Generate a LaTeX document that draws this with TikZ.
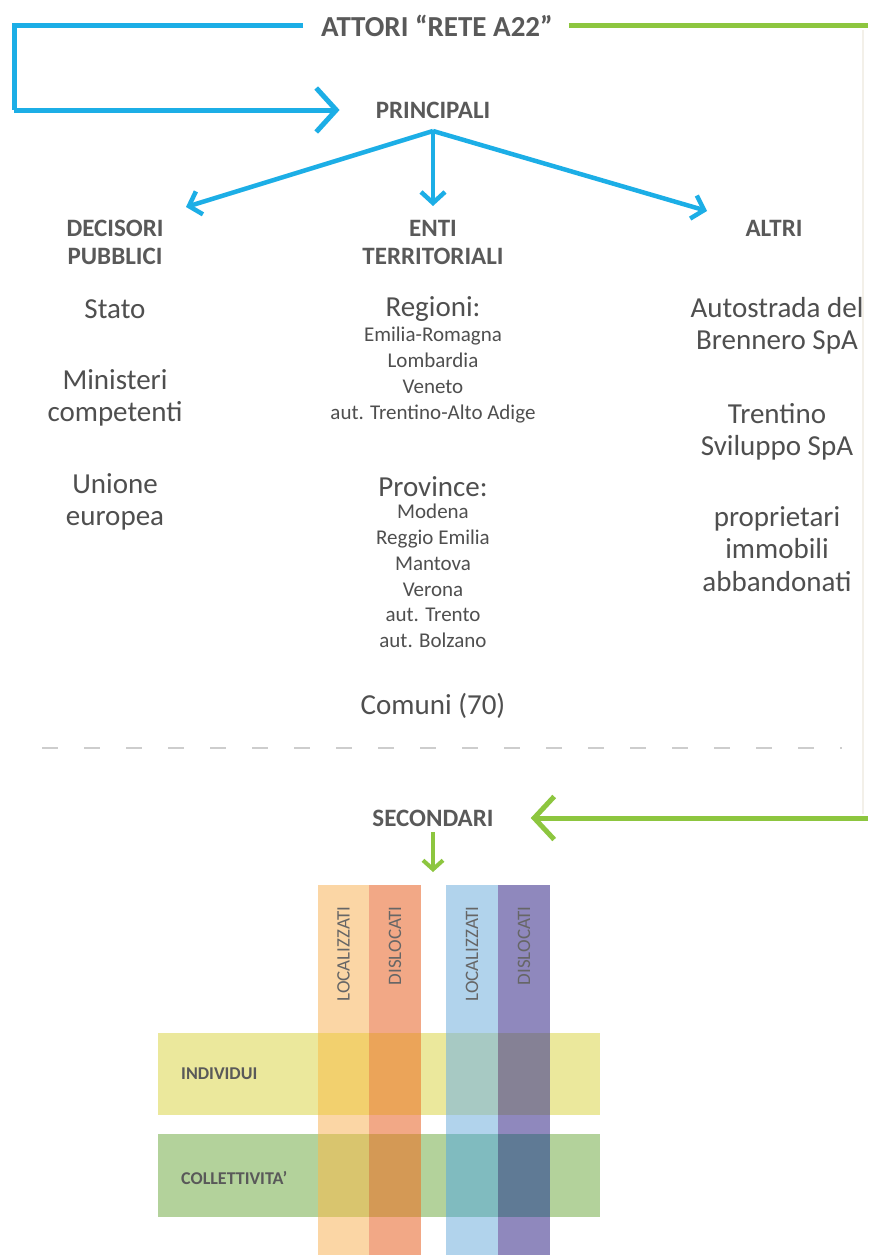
\documentclass[tikz,border=0pt]{standalone}
\usepackage{fontspec}
\setmainfont{Carlito}
\usetikzlibrary{arrows.meta}

\definecolor{ablue}{HTML}{1CAEE6}
\definecolor{agreen}{HTML}{8DC63F}
\definecolor{txt}{HTML}{4F4F4F}
\definecolor{head}{HTML}{595959}
\definecolor{striptxt}{HTML}{666666}
\definecolor{dashgray}{HTML}{CDCDCD}
\definecolor{edgegray}{HTML}{F3F0E9}
% vertical strips
\definecolor{sA}{HTML}{FBD6A5}
\definecolor{sB}{HTML}{F2A886}
\definecolor{sC}{HTML}{B1D3EC}
\definecolor{sD}{HTML}{8F88BD}
% horizontal bands
\definecolor{bI}{HTML}{EBE89C}
\definecolor{bC}{HTML}{B3D29B}
% crossings
\definecolor{AI}{HTML}{F2D06E}
\definecolor{BI}{HTML}{EBA459}
\definecolor{CI}{HTML}{A7C9C3}
\definecolor{DI}{HTML}{858195}
\definecolor{AC}{HTML}{D9C56E}
\definecolor{BC}{HTML}{D49955}
\definecolor{CC}{HTML}{80BBBF}
\definecolor{DC}{HTML}{5F7A95}

\tikzset{
  title/.style={font=\fontsize{29}{31}\selectfont\bfseries, text=head, inner sep=0pt},
  heading/.style={font=\fontsize{25}{28}\selectfont\bfseries, text=head, align=center, inner sep=0pt},
  body/.style={font=\fontsize{29}{32.5}\selectfont, text=txt, align=center, inner sep=0pt},
  small/.style={font=\fontsize{21}{25.8}\selectfont, text=txt, align=center, inner sep=0pt},
  bigblue/.style={draw=ablue, line width=5pt, -{Straight Barb[length=20pt, width=44pt]}},
  blueline/.style={draw=ablue, line width=5pt},
  branch/.style={draw=ablue, line width=4.5pt, -{Straight Barb[length=11pt, width=24pt]}},
  biggreen/.style={draw=agreen, line width=5pt, -{Straight Barb[length=20pt, width=43pt]}},
  greenline/.style={draw=agreen, line width=5pt},
  smallgreen/.style={draw=agreen, line width=4pt, -{Straight Barb[length=9pt, width=20pt]}},
  striplabel/.style={font=\fontsize{19}{20}\selectfont, text=striptxt, rotate=90, anchor=east, inner sep=0pt},
  bandlabel/.style={font=\fontsize{18}{20}\selectfont\bfseries, text=head, anchor=west, inner sep=0pt}
}

\begin{document}
\begin{tikzpicture}[x=1pt, y=-1pt]
\useasboundingbox[fill=white] (0,0) rectangle (868,1255);

% ---------- top: title and the two branches ----------
\node[title] (attori) at (437,26) {ATTORI “RETE A22”};
\node[heading] (principali) at (433,110) {PRINCIPALI};
\node[heading] (secondari) at (433,818) {SECONDARI};

\coordinate (tl) at (14,26);
\coordinate (bl) at (14,110);
\draw[blueline] ([xshift=-18pt]attori.west) -- (tl) -- (bl);
\draw[bigblue, shorten >=36pt] (bl) -- (principali.west);

\coordinate (tr) at (868,26);
\coordinate (br) at (868,818);
\draw[greenline] ([xshift=16pt]attori.east) -- (tr);
\draw[edgegray, line width=1.5pt] (863,30) -- (863,814);
\draw[biggreen, shorten >=37pt] (br) -- (secondari.east);

% ---------- principal actors ----------
\node[heading] (decisori) at (115,242) {DECISORI\\PUBBLICI};
\node[heading] (enti) at (433,242) {ENTI\\TERRITORIALI};
\node[heading] (altri) at (774,228) {ALTRI};

\coordinate (apex) at (433,131);
\coordinate (tipL) at (186,207);
\coordinate (tipC) at (433,206);
\coordinate (tipR) at (707,211);
\draw[branch] (apex) -- (tipL);
\draw[branch] (apex) -- (tipC);
\draw[branch] (apex) -- (tipR);

% left column
\node[body] (stato) at (115,309) {Stato};
\node[body] (ministeri) at (115,398) {Ministeri\\competenti};
\node[body] (unione) at (115,502) {Unione\\europea};

% middle column
\node[body] (regioni) at (433,309) {Regioni:};
\node[small] (reglist) at (433,375) {Emilia-Romagna\\Lombardia\\Veneto\\aut. Trentino-Alto Adige};
\node[body] (province) at (433,487) {Province:};
\node[small] (provlist) at (433,576) {Modena\\Reggio Emilia\\Mantova\\Verona\\aut. Trento\\aut. Bolzano};
\node[body] (comuni) at (433,706) {Comuni (70)};

% right column
\node[body] (autostrada) at (777,326) {Autostrada del\\Brennero SpA};
\node[body] (trentino) at (777,432) {Trentino\\Sviluppo SpA};
\node[body] (proprietari) at (777,549) {proprietari\\immobili\\abbandonati};

% separator between principal and secondary actors
\draw[dashgray, line width=1.6pt, dash pattern=on 16pt off 26pt] (42,748) -- (842,748);

% ---------- secondary actors: grid of strips and bands ----------
\draw[smallgreen] (secondari.south) ++(0,-6pt) -- (433,872);

\fill[sA] (318,885) rectangle (369,1255);
\fill[sB] (369,885) rectangle (421,1255);
\fill[sC] (446,885) rectangle (498,1255);
\fill[sD] (498,885) rectangle (550,1255);

\fill[bI] (158,1033) rectangle (600,1115);
\fill[bC] (158,1134) rectangle (600,1217);

\fill[AI] (318,1033) rectangle (369,1115);
\fill[BI] (369,1033) rectangle (421,1115);
\fill[CI] (446,1033) rectangle (498,1115);
\fill[DI] (498,1033) rectangle (550,1115);
\fill[AC] (318,1134) rectangle (369,1217);
\fill[BC] (369,1134) rectangle (421,1217);
\fill[CC] (446,1134) rectangle (498,1217);
\fill[DC] (498,1134) rectangle (550,1217);

\node[striplabel] (locA) at (343.5,906) {LOCALIZZATI};
\node[striplabel] (disB) at (395,906) {DISLOCATI};
\node[striplabel] (locC) at (472,906) {LOCALIZZATI};
\node[striplabel] (disD) at (524,906) {DISLOCATI};

\node[bandlabel] (individui) at (181,1074) {INDIVIDUI};
\node[bandlabel] (collettivita) at (181,1178) {COLLETTIVITA’};
\end{tikzpicture}
\end{document}
